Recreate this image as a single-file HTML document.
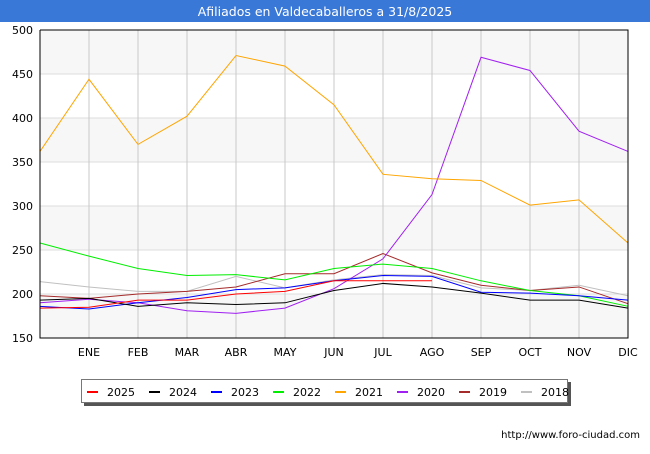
<!DOCTYPE html>
<html><head><meta charset="utf-8"><style>
body{margin:0;width:650px;height:450px;background:#fff;font-family:"DejaVu Sans","Liberation Sans",sans-serif;overflow:hidden}
</style></head><body>
<svg width="650" height="450" xmlns="http://www.w3.org/2000/svg">
<rect x="0" y="0" width="650" height="22" fill="#3a78d8"/>
<text x="325" y="16" text-anchor="middle" fill="#fff" font-size="12.5">Afiliados en Valdecaballeros a 31/8/2025</text>
<g id="plot"></g>
<g id="legend"></g>
<text x="640" y="438" text-anchor="end" font-size="10" fill="#000">http://www.foro-ciudad.com</text>
</svg>
<script>
const months=["","ENE","FEB","MAR","ABR","MAY","JUN","JUL","AGO","SEP","OCT","NOV","DIC"];
const yTicks=[150,200,250,300,350,400,450,500];
const seriesNames=["2025","2024","2023","2022","2021","2020","2019","2018"];
const seriesColors=["#ff0000","#000000","#0000ff","#00ee00","#ffa500","#a020f0","#a52a2a","#c0c0c0"];
const s2025=[184,185,193,193,200,203,215,215,215];
const s2024=[193,195,186,190,188,190,204,212,208,201,193,193,184];
const s2023=[186,183,190,196,205,207,215,221,220,202,201,198,193];
const s2022=[258,243,229,221,222,216,229,234,229,215,204,198,186];
const s2021=[362,444,370,402,471,459,415,336,331,329,301,307,258];
const s2020=[190,194,190,181,178,184,206,240,313,469,454,385,362];
const s2019=[198,195,200,203,208,223,223,246,224,210,204,208,189];
const s2018=[214,208,203,203,220,207,216,222,221,207,204,210,198];
const allSeries=[s2025,s2024,s2023,s2022,s2021,s2020,s2019,s2018];
const NS="http://www.w3.org/2000/svg";
const X0=40,X1=628,Y0=30,Y1=338;
function xs(i){return X0+i*(X1-X0)/12;}
function ys(v){return Y1-(v-150)*(Y1-Y0)/350;}
const g=document.getElementById('plot');
function mk(t,a,p){const e=document.createElementNS(NS,t);for(const k in a)e.setAttribute(k,a[k]);(p||g).appendChild(e);return e;}
// bands
for(let i=0;i<yTicks.length-1;i++){
 if(i%2===0){const r=mk('rect',{x:X0,y:ys(yTicks[i+1]),width:X1-X0,height:ys(yTicks[i])-ys(yTicks[i+1]),fill:'#f7f7f7'});
 
 }
}
yTicks.forEach(v=>{
 const l=mk('line',{x1:X0,x2:X1,y1:ys(v),y2:ys(v),stroke:'#dddddd','stroke-width':1});
 
 
 const t=mk('text',{x:X0-7,y:ys(v)+4,'text-anchor':'end','font-size':11,fill:'#000'});t.textContent=v;
 
 
});
months.forEach((m,i)=>{
 if(i>0){const l=mk('line',{x1:xs(i),x2:xs(i),y1:Y0,y2:Y1,stroke:'#c8c8c8','stroke-width':1});
 
 }
 const t=mk('text',{x:xs(i),y:Y1+18,'text-anchor':'middle','font-size':11,fill:'#000'});t.textContent=m;
 
 
});
for(let s=allSeries.length-1;s>=0;s--){
 const d=allSeries[s].map((v,i)=>xs(i)+','+ys(v)).join(' ');
 const p=mk('polyline',{points:d,fill:'none',stroke:seriesColors[s],'stroke-width':1});
 
 
}
const ax=mk('polyline',{points:`${X0},${Y0} ${X0},${Y1} ${X1},${Y1} ${X1},${Y0} ${X0},${Y0}`,fill:'none',stroke:'#000','stroke-width':1});


const lg=document.getElementById('legend');
const sh=mk('rect',{x:84,y:382,width:487,height:24,fill:'#555'},lg);


const box=mk('rect',{x:81.5,y:379.5,width:486,height:23,fill:'#fff',stroke:'#777'},lg);


seriesNames.forEach((n,i)=>{
 const x=87+i*62;
 const l=mk('line',{x1:x,x2:x+11,y1:392,y2:392,stroke:seriesColors[i],'stroke-width':2},lg);
 
 
 const t=mk('text',{x:x+20,y:396,'font-size':11,fill:'#000'},lg);t.textContent=n;
 
 
});
</script>
</body></html>
